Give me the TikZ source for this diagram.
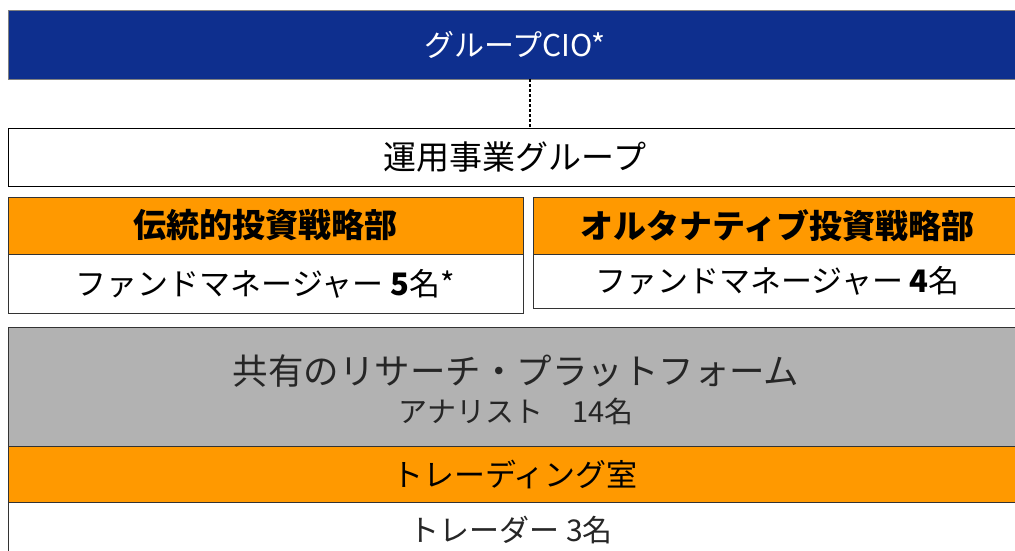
\documentclass[tikz,border=0pt]{standalone}
\usepackage{fontspec}
\setmainfont{Noto Sans CJK JP}
\definecolor{cioblue}{HTML}{0E2F8E}
\definecolor{deptorange}{HTML}{FF9900}
\definecolor{sharedgray}{HTML}{B2B2B2}
\definecolor{edgegray}{HTML}{333333}
\begin{document}
\begin{tikzpicture}[x=1pt,y=-1pt,
  box/.style={draw=edgegray, line width=0.9pt, rectangle, inner sep=0pt, outer sep=0pt, anchor=north west, text=black},
  fs/.style={font=\fontsize{#1}{#1}\selectfont},
  linkline/.style={draw=black, line width=1.6pt, dash pattern=on 3pt off 2pt}]
\useasboundingbox (0,0) rectangle (1015,551);
\clip (0,0) rectangle (1015,551);
% top: Group CIO
\node[box, draw=gray, fill=cioblue, text=white, minimum width=1014pt, minimum height=69pt, fs=30] (cio) at (8,10) {グループCIO*};
% investment business group
\node[box, draw=black, fill=white, minimum width=1014pt, minimum height=58pt, fs=33] (ops) at (8,128) {運用事業グループ};
% link
\coordinate (linex) at (530,0);
\draw[linkline] (cio.south -| linex) -- (ops.north -| linex);
% traditional department
\node[box, fill=deptorange, minimum width=515pt, minimum height=57pt, fs=33] (tradhead) at (8,197) {\bfseries 伝統的投資戦略部};
\node[box, fill=white, minimum width=515pt, minimum height=59pt, fs=31] (tradfm) at (8,254) {ファンドマネージャー \textbf{5}名*};
% alternative department
\node[box, fill=deptorange, minimum width=489pt, minimum height=57pt, fs=33] (althead) at (533,197) {\bfseries オルタナティブ投資戦略部};
\node[box, fill=white, minimum width=489pt, minimum height=54pt, fs=31] (altfm) at (533,254) {ファンドマネージャー \textbf{4}名};
% shared research platform
\node[box, fill=sharedgray, minimum width=1014pt, minimum height=119pt] (research) at (8,327) {};
\node[fs=35.5, text=black!85, inner sep=0pt] (researchtitle) at (516,371) {共有のリサーチ・プラットフォーム};
\node[fs=29, text=black!85, inner sep=0pt] (analysts) at (516,411) {アナリスト　14名};
% trading room
\node[box, fill=deptorange, minimum width=1014pt, minimum height=56pt, fs=31] (trading) at (8,446) {トレーディング室};
\node[box, fill=white, minimum width=1014pt, minimum height=60pt, anchor=north west] (traders) at (8,502) {};
\node[fs=30, text=black!85, inner sep=0pt] (traderstext) at (511,530) {トレーダー 3名};
\end{tikzpicture}
\end{document}
